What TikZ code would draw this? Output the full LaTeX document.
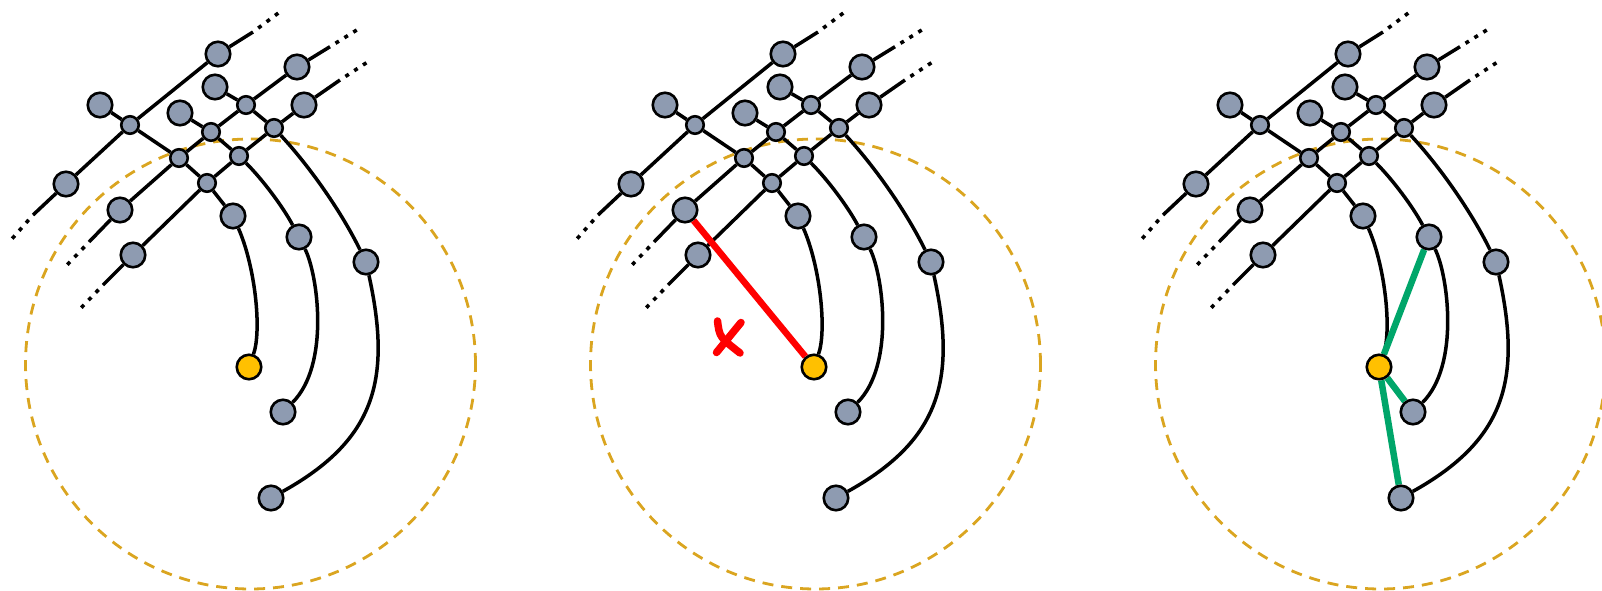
\documentclass[tikz,border=0pt]{standalone}
\pgfdeclarelayer{background}
\pgfsetlayers{background,main}
\definecolor{nodegray}{RGB}{142,155,177}
\definecolor{nodeyellow}{RGB}{255,192,0}
\definecolor{ringgold}{RGB}{218,165,32}
\definecolor{edgegreen}{RGB}{0,166,106}
\definecolor{edgered}{RGB}{255,0,0}
\tikzset{
 bignode/.style={circle,draw=black,line width=2.6pt,fill=nodegray,minimum size=24.5pt,inner sep=0pt},
 smallnode/.style={bignode,minimum size=17.5pt},
 targetnode/.style={bignode,fill=nodeyellow},
 link/.style={draw=black,line width=3.5pt,line join=round},
 tail/.style={draw=black,line width=3.6pt,dash pattern=on 4pt off 6.5pt,dash phase=4pt},
 ring/.style={draw=ringgold,line width=2.8pt,dash pattern=on 11pt off 8pt},
 badlink/.style={draw=edgered,line width=6.5pt},
 goodlink/.style={draw=edgegreen,line width=6.5pt},
 crossstroke/.style={draw=edgered,line width=7.5pt,line cap=round},
}
\newcommand\drawpanel[2]{%
\begin{scope}[xshift=#2]
 \node[bignode] (#1A) at (218,54) {};
 \node[bignode] (#1B) at (297,67) {};
 \node[bignode] (#1C) at (215,87) {};
 \node[bignode] (#1D) at (304,105) {};
 \node[bignode] (#1E) at (100,105) {};
 \node[bignode] (#1F) at (180,113) {};
 \node[smallnode] (#1s1) at (130,125) {};
 \node[smallnode] (#1s2) at (246,105) {};
 \node[smallnode] (#1s3) at (211,132) {};
 \node[smallnode] (#1s4) at (274,128) {};
 \node[smallnode] (#1s5) at (179,158) {};
 \node[smallnode] (#1s6) at (239,156) {};
 \node[smallnode] (#1s7) at (207,183) {};
 \node[bignode] (#1G) at (66,184) {};
 \node[bignode] (#1H) at (120,210) {};
 \node[bignode] (#1I) at (233,216) {};
 \node[bignode] (#1J) at (299,237) {};
 \node[bignode] (#1K) at (133,255) {};
 \node[bignode] (#1L) at (366,262) {};
 \node[targetnode] (#1Y) at (249,367) {};
 \node[bignode] (#1M) at (283,412) {};
 \node[bignode] (#1N) at (271,498) {};
 \coordinate (#1ring) at (250.5,364);
 \coordinate (#1g0) at (33,215);
 \coordinate (#1g1) at (12.2,238.6);
 \coordinate (#1a0) at (253,32);
 \coordinate (#1a1) at (278.2,13.1);
 \coordinate (#1h0) at (89,242);
 \coordinate (#1h1) at (67.3,264.7);
 \coordinate (#1b0) at (330,46.7);
 \coordinate (#1b1) at (356.8,30);
 \coordinate (#1k0) at (103,285);
 \coordinate (#1k1) at (81.3,307.7);
 \coordinate (#1d0) at (340,80);
 \coordinate (#1d1) at (366.5,62.7);
 \begin{pgfonlayer}{background}
  \draw[ring] (#1ring) circle (225pt);
  \draw[link] (#1g0) -- (#1G) -- (#1s1) -- (#1A) -- (#1a0);
  \draw[link] (#1h0) -- (#1H) -- (#1s5) -- (#1s3) -- (#1s2) -- (#1B) -- (#1b0);
  \draw[link] (#1k0) -- (#1K) -- (#1s7) -- (#1s6) -- (#1s4) -- (#1D) -- (#1d0);
  \draw[link] (#1E) -- (#1s1) -- (#1s5) -- (#1s7) -- (#1I);
  \draw[link] (#1F) -- (#1s3) -- (#1s6);
  \draw[link] (#1s6) .. controls (263,180) and (283,207) .. (#1J);
  \draw[link] (#1C) -- (#1s2) -- (#1s4);
  \draw[link] (#1s4) .. controls (311,168) and (342,213) .. (#1L);
  \draw[link] (#1I) .. controls (255,266) and (262,330) .. (#1Y);
  \draw[link] (#1J) .. controls (318,275) and (330,365) .. (#1M);
  \draw[link] (#1L) .. controls (392,380) and (375,440) .. (#1N);
  \draw[tail] (#1g0) -- (#1g1);
  \draw[tail] (#1a0) -- (#1a1);
  \draw[tail] (#1h0) -- (#1h1);
  \draw[tail] (#1b0) -- (#1b1);
  \draw[tail] (#1k0) -- (#1k1);
  \draw[tail] (#1d0) -- (#1d1);
 \end{pgfonlayer}
\end{scope}}
\begin{document}
\begin{tikzpicture}[x=1pt,y=-1pt]
 \useasboundingbox (0,0) rectangle (1602,591);
 \drawpanel{p}{0pt}
 \drawpanel{q}{565pt}
 \drawpanel{r}{1130pt}
 \begin{pgfonlayer}{background}
  \draw[badlink] (qH) -- (qY);
  \draw[goodlink] (rY) -- (rJ);
  \draw[goodlink] (rY) -- (rM);
  \draw[goodlink] (rY) -- (rN);
 \end{pgfonlayer}
 \coordinate (xa) at (741,322.5);
 \coordinate (xb) at (716.5,352.5);
 \coordinate (xc) at (717.5,321);
 \coordinate (xd) at (719.5,337);
 \coordinate (xe) at (740,353);
 \draw[crossstroke] (xa) -- (xb);
 \draw[crossstroke] (xc) .. controls (xd) .. (xe);
\end{tikzpicture}
\end{document}
